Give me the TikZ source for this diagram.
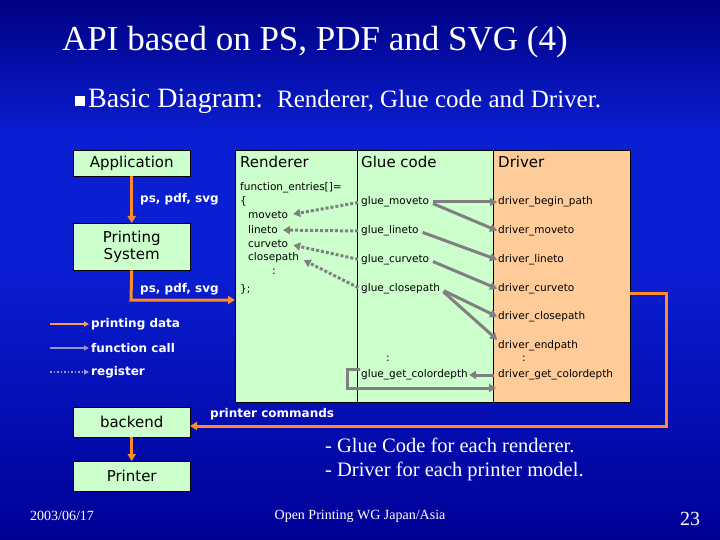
\documentclass[tikz,border=0pt]{standalone}
\usepackage{fontspec}
\setmainfont{Liberation Serif}
\newfontfamily\tah{DejaVu Sans}
\usetikzlibrary{arrows.meta}
\definecolor{bgtop}{RGB}{0,0,130}
\definecolor{bgmid}{RGB}{10,30,210}
\definecolor{bgbot}{RGB}{0,0,150}
\definecolor{boxg}{RGB}{204,255,204}
\definecolor{boxo}{RGB}{255,204,153}
\definecolor{ora}{RGB}{255,140,40}
\definecolor{gr}{RGB}{128,128,128}
\begin{document}
\begin{tikzpicture}[x=1pt,y=-1pt,
  box/.style={draw=black,fill=boxg,inner sep=0,font=\tah\fontsize{15}{17}\selectfont},
  lbl/.style={anchor=west,inner sep=0,font=\tah\fontsize{10.5}{12}\selectfont},
  wlbl/.style={anchor=west,inner sep=0,text=white,font=\tah\bfseries\fontsize{12}{14}\selectfont},
  oarr/.style={draw=ora,line width=3pt,-{Triangle[length=7pt,width=8pt]}},
  garr/.style={draw=gr,line width=3pt,shorten <=4pt,shorten >=1pt,-{Triangle[length=7pt,width=8pt]}},
  darr/.style={draw=gr,line width=3pt,dotted,shorten <=3pt,shorten >=5pt,-{Triangle[length=7pt,width=8pt]}}]
\useasboundingbox (0,0) rectangle (720,540);
\shade[top color=bgtop,bottom color=bgmid,middle color=bgmid] (0,0) rectangle (720,270);
\shade[top color=bgmid,bottom color=bgbot] (0,270) rectangle (720,540);
\node[anchor=west,text=white,inner sep=0,font=\fontsize{35}{40}\selectfont] (title) at (62,42) {API based on PS, PDF and SVG (4)};
\node[anchor=west,text=white,inner sep=0] (bul) at (75,101) {\rule{10pt}{10pt}};
\node[anchor=west,text=white,inner sep=0] (sub) at (88,101) {\fontsize{28}{32}\selectfont Basic Diagram:\ \ \fontsize{25}{28}\selectfont Renderer, Glue code and Driver.};
% main boxes
\node[box,minimum width=122pt,minimum height=252pt,anchor=north west] (ren) at (235,150) {};
\node[box,minimum width=137pt,minimum height=252pt,anchor=north west] (glue) at (357,150) {};
\node[box,fill=boxo,minimum width=137pt,minimum height=252pt,anchor=north west] (drv) at (493,150) {};
\node[lbl,font=\tah\fontsize{15}{17}\selectfont] (rh) at (240,162) {Renderer};
\node[lbl,font=\tah\fontsize{15}{17}\selectfont] (gh) at (361,162) {Glue code};
\node[lbl,font=\tah\fontsize{15}{17}\selectfont] (dh) at (498,162) {Driver};
\node[lbl] (fe) at (240,188) {function\_entries[]=};
\node[lbl] (ob) at (240,201) {\{};
\node[lbl] (rm) at (248,215) {moveto};
\node[lbl] (rl) at (248,230) {lineto};
\node[lbl] (rc) at (248,244) {curveto};
\node[lbl] (rcp) at (248,258) {closepath};
\node[lbl] (rdots) at (272,272) {:};
\node[lbl] (cb) at (240,289) {\};};
\node[lbl] (gm) at (361,202) {glue\_moveto};
\node[lbl] (gl) at (361,231) {glue\_lineto};
\node[lbl] (gc) at (361,260) {glue\_curveto};
\node[lbl] (gcp) at (361,289) {glue\_closepath};
\node[lbl] (gdots) at (386,359) {:};
\node[lbl] (gg) at (361,375) {glue\_get\_colordepth};
\node[lbl] (db) at (498,202) {driver\_begin\_path};
\node[lbl] (dm) at (498,231) {driver\_moveto};
\node[lbl] (dl) at (498,260) {driver\_lineto};
\node[lbl] (dc) at (498,289) {driver\_curveto};
\node[lbl] (dcp) at (498,317) {driver\_closepath};
\node[lbl] (de) at (498,346) {driver\_endpath};
\node[lbl] (ddots) at (522,359) {:};
\node[lbl] (dg) at (498,375) {driver\_get\_colordepth};
% left boxes
\node[box,minimum width=117pt,minimum height=26pt,anchor=north west] (app) at (73,150) {Application};
\node[box,minimum width=117pt,minimum height=47pt,anchor=north west,align=center] (ps) at (73,223) {Printing\\System};
\node[box,minimum width=117pt,minimum height=30pt,anchor=north west] (be) at (73,407) {backend};
\node[box,minimum width=117pt,minimum height=30pt,anchor=north west] (pr) at (73,461) {Printer};
\node[wlbl] (l1) at (140,199) {ps, pdf, svg};
\node[wlbl] (l2) at (140,289) {ps, pdf, svg};
\node[wlbl] (pc) at (210,414) {printer commands};
% orange
\draw[oarr] (app.south) -- (ps.north);
\coordinate (c1) at (131,300);
\coordinate (c2) at (235,300);
\draw[oarr] (ps.south) -- (c1) -- (c2);
\coordinate (c3) at (666,293);
\coordinate (c4) at (666,426);
\coordinate (c5) at (190,426);
\coordinate (c0) at (630,293);
\draw[oarr] (c0) -- (c3) -- (c4) -- (c5);
\draw[oarr] (be.south) -- (pr.north);
% gray function calls
\draw[garr] (gm.east) -- (db.west);
\draw[garr] (gm.east) -- (dm.west);
\draw[garr] (gl.east) -- (dl.west);
\draw[garr] (gc.east) -- (dc.west);
\draw[garr] (gcp.east) -- (dcp.west);
\draw[garr] (gcp.east) -- (de.north west);
\draw[garr] (dg.west) -- (gg.east);
\coordinate (b1) at (360,369);
\coordinate (b2) at (347,369);
\coordinate (b3) at (347,388);
\coordinate (b4) at (497,388);
\draw[garr,shorten <=0pt] (b1) -- (b2) -- (b3) -- (b4);
% dotted register
\draw[darr] (gm.west) -- (rm.east);
\draw[darr] (gl.west) -- (rl.east);
\draw[darr] (gc.west) -- (rc.east);
\draw[darr] (gcp.west) -- (rcp.east);
% legend
\node[wlbl] (lg1) at (91,324) {printing data};
\node[wlbl] (lg2) at (91,348) {function call};
\node[wlbl] (lg3) at (91,372) {register};
\coordinate (a1) at (50,324); \coordinate (a2) at (50,348); \coordinate (a3) at (50,372);
\draw[draw=ora!70!pink,line width=1.5pt,shorten >=2pt,-{Triangle[length=5pt,width=5pt]}] (a1) -- (lg1.west);
\draw[draw=gray!60!blue!60!white,line width=1.5pt,shorten >=2pt,-{Triangle[length=5pt,width=5pt]}] (a2) -- (lg2.west);
\draw[draw=gray!50!blue!50!white,line width=1.5pt,dotted,shorten >=2pt,-{Triangle[length=5pt,width=5pt]}] (a3) -- (lg3.west);
% notes
\node[anchor=west,text=white,align=left,inner sep=0,font=\fontsize{20.5}{24}\selectfont] (notes) at (325,459) {- Glue Code for each renderer.\\- Driver for each printer model.};
\node[anchor=west,text=white,inner sep=0,font=\fontsize{14}{16}\selectfont] (date) at (30,516) {2003/06/17};
\node[text=white,inner sep=0,font=\fontsize{14}{16}\selectfont] (org) at (360,516) {Open Printing WG Japan/Asia};
\node[text=white,inner sep=0,font=\fontsize{20}{22}\selectfont] (num) at (690,519) {23};
\end{tikzpicture}
\end{document}
